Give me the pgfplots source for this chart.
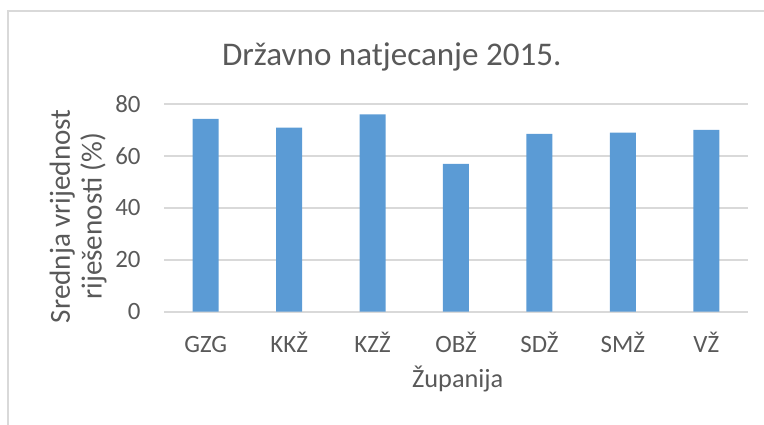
\documentclass[border=0pt]{standalone}
\usepackage{fontspec}
\setmainfont{Carlito}
\usepackage{pgfplots}
\pgfplotsset{compat=1.18}
\definecolor{barblue}{HTML}{5B9BD5}
\definecolor{txtgray}{HTML}{595959}
\definecolor{gridgray}{HTML}{D9D9D9}

\begin{document}
\begin{tikzpicture}
% whole picture, 1 px of the reference = 0.5bp
\path[use as bounding box] (0,0) rectangle (382bp,212.5bp);
\draw[gridgray, line width=0.8bp] (4bp,0) -- (4bp,207bp) -- (382bp,207bp);
\begin{axis}[
    at={(82bp,56.65bp)}, anchor=south west,
    scale only axis,
    width=292bp, height=103.85bp,
    ybar, bar width=13bp,
    ymin=0, ymax=80, ytick={0,20,...,80},
    xmin=-0.5, xmax=6.5,
    xtick={0,...,6},
    xticklabels={GZG,KKŽ,KZŽ,OBŽ,SDŽ,SMŽ,VŽ},
    axis line style={draw=none},
    major tick length=0pt,
    ymajorgrids,
    grid style={gridgray, line width=0.8bp},
    /pgf/number format/assume math mode=true,
    tick label style={font=\fontsize{12.5}{15}\selectfont, text=txtgray, inner sep=0pt},
    yticklabel style={anchor=east, xshift=-11.5bp},
    xticklabel style={anchor=base, yshift=-20.3bp},
    title={Državno natjecanje 2015.},
    every axis title/.style={at={(axis description cs:0.39,1.183)}, anchor=base,
        font=\fontsize{16.6}{20}\selectfont, text=txtgray},
    xlabel={Županija},
    every axis x label/.style={at={(axis description cs:0.503,-0.367)}, anchor=base,
        font=\fontsize{13.2}{15}\selectfont, text=txtgray},
    ylabel={Srednja vrijednost\\riješenosti (\%)},
    every axis y label/.style={at={(axis description cs:-0.147,0.46)}, anchor=center,
        rotate=90, align=center, font=\fontsize{14.6}{16}\selectfont, text=txtgray},
]
\addplot[fill=barblue, draw=none] coordinates {
    (0,74.3) (1,70.9) (2,76.0) (3,56.9) (4,68.5) (5,69.0) (6,70.0)
};
\end{axis}
\end{tikzpicture}
\end{document}
